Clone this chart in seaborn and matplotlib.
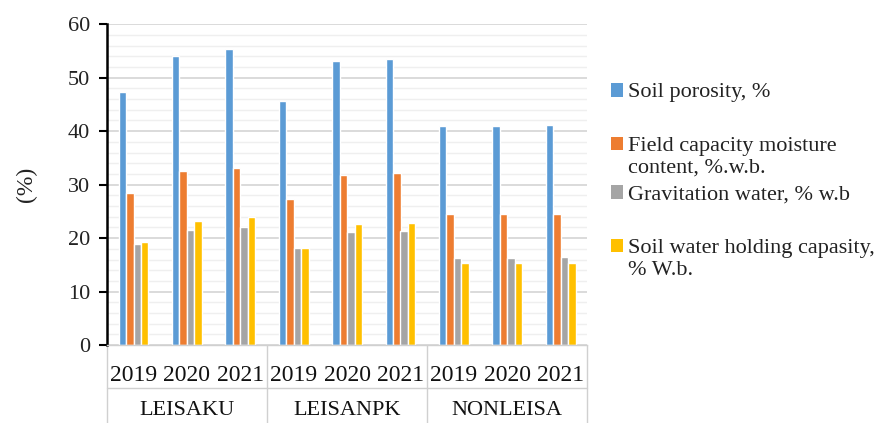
import matplotlib
matplotlib.use("Agg")
import matplotlib.pyplot as plt
from matplotlib.patches import Patch
import seaborn as sns
import pandas as pd
from matplotlib.ticker import MultipleLocator
from matplotlib.transforms import blended_transform_factory

groups = ["LEISAKU", "LEISANPK", "NONLEISA"]
years = ["2019", "2020", "2021"]
series = ["Soil porosity, %",
          "Field capacity moisture\ncontent, %.w.b.",
          "Gravitation water, % w.b",
          "Soil water holding capasity,\n% W.b."]
porosity = [47.3, 54.1, 55.4, 45.6, 53.1, 53.5, 40.9, 41.0, 41.1]
field_cap = [28.4, 32.5, 33.2, 27.3, 31.8, 32.1, 24.5, 24.6, 24.6]
gravitation = [18.9, 21.6, 22.1, 18.1, 21.2, 21.4, 16.3, 16.3, 16.4]
holding = [19.2, 23.2, 24.0, 18.1, 22.6, 22.9, 15.3, 15.3, 15.4]
colors = ["#5B9BD5", "#ED7D31", "#A5A5A5", "#FFC000"]

cats = [f"{g} {y}" for g in groups for y in years]
rows = []
for name, vals in zip(series, [porosity, field_cap, gravitation, holding]):
    for c, v in zip(cats, vals):
        rows.append({"cat": c, "series": name, "value": v})
df = pd.DataFrame(rows)

sns.set_theme(style="white")
plt.rcParams['font.family'] = ['Liberation Serif', 'DejaVu Serif']

fig = plt.figure(figsize=(8.9, 4.23), dpi=100)
ax = fig.add_axes([0.120, 0.184, 0.540, 0.759])

sns.barplot(data=df, x="cat", y="value", hue="series", order=cats,
            hue_order=series, palette=colors, width=0.56, saturation=1,
            ax=ax, legend=False)

ax.set_ylim(0, 60)
ax.set_xlim(-0.5, len(cats) - 0.5)
ax.yaxis.set_major_locator(MultipleLocator(10))
ax.yaxis.set_minor_locator(MultipleLocator(2))
ax.grid(axis="y", which="major", color="#d4d4d4", linewidth=1.2)
ax.grid(axis="y", which="minor", color="#efefef", linewidth=1.0)
ax.set_axisbelow(True)

for s in ["top", "right"]:
    ax.spines[s].set_visible(False)
ax.spines["left"].set_color("black")
ax.spines["left"].set_linewidth(1.8)
ax.spines["bottom"].set_color("#d0d0d0")
ax.spines["bottom"].set_linewidth(1.0)

ax.tick_params(axis="y", which="major", left=True, length=6, width=1.5,
               color="black", labelsize=16, pad=6, labelcolor="#222222")
ax.tick_params(axis="y", which="minor", left=False)
ax.set_xticks(range(len(cats)))
ax.set_xticklabels([y for g in groups for y in years], fontsize=17, color="#111111")
ax.tick_params(axis="x", length=0, pad=14)
ax.set_xlabel("")
ax.set_ylabel("(%)", fontsize=17, color="#222222", labelpad=22)

trans = blended_transform_factory(ax.transData, ax.transAxes)
line_kw = dict(color="#d0d0d0", linewidth=1.0, clip_on=False, transform=trans)
for b in [-0.5, 2.5, 5.5, 8.5]:
    ax.plot([b, b], [0, -0.26], **line_kw)
ax.plot([-0.5, 8.5], [-0.134, -0.134], **line_kw)
for i, g in enumerate(groups):
    ax.text(i * 3 + 1, -0.205, g, transform=trans, ha="center", va="center",
            fontsize=16, color="#111111")

ypos = [93, 157.5, 195, 259.5]
for c, l, yp in zip(colors, series, ypos):
    leg = fig.legend([Patch(facecolor=c, edgecolor="none")], [l], loc="center left",
                     bbox_to_anchor=(0.686, 1 - yp / 423), frameon=False,
                     fontsize=16, handlelength=0.55, handleheight=0.55,
                     handletextpad=0.25, borderpad=0, borderaxespad=0,
                     labelcolor="#222222")
    for col in leg._legend_handle_box.get_children():
        for hp in col.get_children():
            hp.align = "top"

fig.savefig("out.png", dpi=100)
